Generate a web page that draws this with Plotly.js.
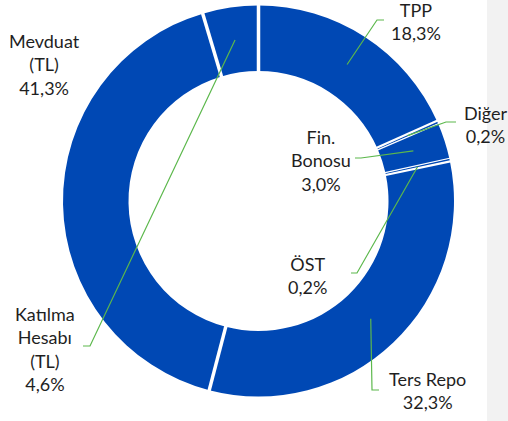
<!DOCTYPE html>
<html><head><meta charset="utf-8">
<script src="https://cdn.plot.ly/plotly-3.0.1.min.js"></script>
<style>html,body{margin:0;padding:0;background:#fff}#chart{width:508px;height:421px}</style>
</head><body><div id="chart"></div>
<script>
// ---- data ----
const categories = ["TPP", "Diğer", "Fin. Bonosu", "ÖST", "Ters Repo", "Mevduat (TL)", "Katılma Hesabı (TL)"];
const shares = [18.3, 0.2, 3.0, 0.2, 32.3, 41.3, 4.6];
const labelLines = [["TPP"], ["Diğer"], ["Fin.", "Bonosu"], ["ÖST"], ["Ters Repo"], ["Mevduat", "(TL)"], ["Katılma", "Hesabı", "(TL)"]];

// ---- layout / style ----
const W = 508, H = 421;
const M = {l: 63, r: 54, t: 5, b: 24};
const HOLE = 0.665;
const BLUE = "#0048b4";
const GREEN = "#5cb84c";
const FONT = {family: "Lato, 'Open Sans', sans-serif", size: 18, color: "#1f1f1f"};
// label centres (px) and leader elbow/end points (px)
const labelPos = [[416, 21], [486, 124], [321, 160], [307, 275], [427, 390], [44, 65], [45, 349]];
const leaderPts = [[[377, 20], [384, 20]], [[446, 122], [456, 122]], [[361, 158], [355, 158]],
                   [[357, 273], [351, 273]], [[372, 390], [379, 390]], null, [[90, 346], [83, 346]]];
// white separator widths / perpendicular shifts (px) at each slice start boundary
const sepWidth = [3.5, 2.2, 1.2, 1.2, 2.2, 3.5, 3.5];
const sepShift = [0, -0.5, 0.3, -0.3, 0.5, 0, 0];

const pw = W - M.l - M.r, ph = H - M.t - M.b;
const R = Math.min(pw, ph) / 2;
const cx = M.l + pw / 2, cy = M.t + ph / 2;
const toX = px => (px - M.l) / pw;
const toY = py => (H - M.b - py) / ph;

const total = shares.reduce((a, b) => a + b, 0);
let cum = 0;
const starts = [];
const centroids = shares.map(v => {
  starts.push(cum);
  const th = 2 * Math.PI * (cum + v / 2) / total;
  cum += v;
  const rm = R * (1 + HOLE) / 2;
  return [cx + rm * Math.sin(th), cy - rm * Math.cos(th)];
});

const fmt = v => v.toFixed(1).replace(".", ",") + "%";

const annotations = categories.map((c, i) => ({
  text: labelLines[i].concat([fmt(shares[i])]).join("<br>"),
  x: toX(labelPos[i][0]), y: toY(labelPos[i][1]), xref: "paper", yref: "paper",
  xanchor: "center", yanchor: "middle", showarrow: false, align: "center", font: FONT
}));

const shapes = [{
  type: "rect", xref: "paper", yref: "paper", layer: "below",
  x0: toX(487), x1: toX(510), y0: toY(425), y1: toY(-5),
  fillcolor: "#f2f2f2", line: {width: 0}
}];
// white separators between slices
starts.forEach((s, k) => {
  const th = 2 * Math.PI * s / total;
  const ux = Math.sin(th), uy = -Math.cos(th);
  const px = Math.cos(th), py = Math.sin(th);
  const sh = sepShift[k];
  const r0 = R * HOLE - 1.5, r1 = R + 1.5;
  shapes.push({
    type: "line", xref: "paper", yref: "paper",
    x0: toX(cx + r0 * ux + sh * px), y0: toY(cy + r0 * uy + sh * py),
    x1: toX(cx + r1 * ux + sh * px), y1: toY(cy + r1 * uy + sh * py),
    line: {color: "#ffffff", width: sepWidth[k]}
  });
});
// leader lines
categories.forEach((c, i) => {
  if (!leaderPts[i]) return;
  const pts = [centroids[i]].concat(leaderPts[i]);
  const path = pts.map((p, k) => (k ? "L" : "M") + toX(p[0]) + "," + toY(p[1])).join(" ");
  shapes.push({type: "path", xref: "paper", yref: "paper", path: path, line: {color: GREEN, width: 1.2}});
});

Plotly.newPlot("chart", [{
  type: "pie", labels: categories, values: shares, hole: HOLE, sort: false,
  direction: "clockwise", rotation: 0, textinfo: "none", hoverinfo: "none",
  marker: {colors: categories.map(() => BLUE), line: {width: 0}}
}], {
  width: W, height: H, margin: M, showlegend: false,
  paper_bgcolor: "#ffffff", plot_bgcolor: "#ffffff",
  annotations: annotations, shapes: shapes
}, {displayModeBar: false, staticPlot: true});
</script>
</body></html>
